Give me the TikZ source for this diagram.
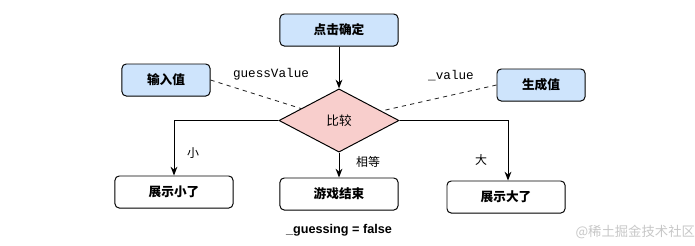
\documentclass[tikz,border=0pt]{standalone}
\usepackage{fontspec}
\setmainfont{Liberation Sans}
\setmonofont{Liberation Mono}
\newfontfamily\cjk{Noto Sans CJK SC}
\usetikzlibrary{arrows.meta,shapes.geometric}
\definecolor{boxblue}{RGB}{206,228,252}
\definecolor{cmppink}{RGB}{248,206,204}

\begin{document}
\begin{tikzpicture}[
  x=0.025cm,
  y=-0.025cm,
  arrow/.style={-{Stealth[length=2.2mm, width=1.7mm]}, line width=0.7pt},
  link/.style={dashed, line width=0.6pt, black!85},
  bluebox/.style={rectangle, rounded corners=3pt, draw=black, line width=0.7pt, fill=boxblue,
                  minimum width=2.2cm, minimum height=0.8cm, font=\cjk\bfseries\fontsize{9}{11}\selectfont},
  whitebox/.style={rectangle, rounded corners=3pt, draw=black, line width=0.7pt, fill=white,
                  minimum width=2.95cm, minimum height=0.8cm, font=\cjk\bfseries\fontsize{9}{11}\selectfont},
  decision/.style={diamond, draw=black, line width=0.7pt, fill=cmppink, inner sep=0pt, aspect=1.9,
                  minimum width=3cm, minimum height=1.58cm, font=\cjk\fontsize{9}{11}\selectfont},
  edgetext/.style={font=\cjk\fontsize{8.5}{10}\selectfont},
  codetext/.style={font=\ttfamily\fontsize{9}{11}\selectfont}
]
  % Page frame: 695 x 245 px, y grows downwards
  \useasboundingbox (0,0) rectangle (695,245);
  % Top and input boxes
  \node[bluebox, minimum width=2.95cm] (click) at (339, 30) {点击确定};
  \node[bluebox] (input) at (166, 80) {输入值};
  \node[bluebox] (gen) at (541, 85) {生成值};
  % Comparison
  \node[decision] (cmp) at (339, 120.5) {比较};
  % Results
  \node[whitebox] (less) at (174, 192) {展示小了};
  \node[whitebox] (equal) at (339, 194) {游戏结束};
  \node[whitebox] (more) at (506, 197) {展示大了};
  % Connectors
  \draw[arrow] (click) -- (cmp);
  \draw[link] (input.east) -- (cmp);
  \draw[link] (gen.west) -- (cmp);
  \draw[arrow] (cmp.west) -| (less.north);
  \draw[arrow] (cmp.south) -- (equal.north);
  \draw[arrow] (cmp.east) -| ([xshift=2*0.025cm]more.north);
  % Labels
  \node[codetext] (guesslbl) at (271, 74) {guessValue};
  \node[codetext] (valuelbl) at (451, 76) {\_value};
  \node[edgetext] (lesslbl) at (193, 153) {小};
  \node[edgetext] (equallbl) at (368, 162) {相等};
  \node[edgetext] (morelbl) at (481, 160) {大};
  \node[font=\bfseries\fontsize{9}{11}\selectfont] (state) at (339, 230) {\_guessing = false};
  \node[anchor=east, text=black!22, font=\cjk\fontsize{9.5}{11}\selectfont] (mark) at (700, 232) {@稀土掘金技术社区};
\end{tikzpicture}
\end{document}
